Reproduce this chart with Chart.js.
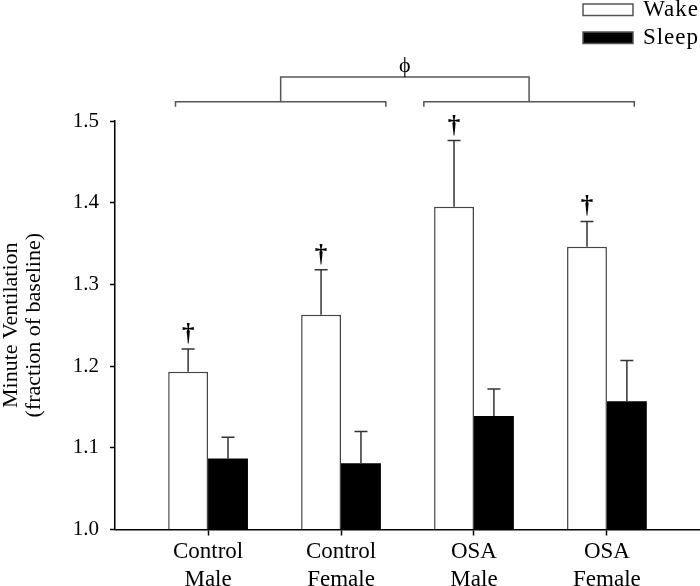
<!DOCTYPE html>
<html><head><meta charset="utf-8">
<script src="https://cdn.jsdelivr.net/npm/chart.js@4.4.1/dist/chart.umd.min.js"></script>
<style>html,body{margin:0;padding:0;background:#fff;} #wrap{width:700px;height:586px;position:relative;}</style>
</head><body><div id="wrap"><canvas id="c" width="700" height="586"></canvas></div>
<script>
// ---- data ----
const categories = [['Control', 'Male'], ['Control', 'Female'], ['OSA', 'Male'], ['OSA', 'Female']];
const wakeValues = [1.193, 1.263, 1.395, 1.346];
const wakeErrors = [0.028, 0.055, 0.081, 0.031];
const sleepValues = [1.087, 1.081, 1.139, 1.157];
const sleepErrors = [0.026, 0.039, 0.033, 0.050];
const wakeSignificant = [true, true, true, true];
const yTicks = [1.0, 1.1, 1.2, 1.3, 1.4, 1.5];
const seriesNames = ['Wake', 'Sleep'];

// ---- annotation layout (x in category units, y in value units) ----
const groupBrackets = [{ from: 0.755, to: 2.337 }, { from: 2.623, to: 4.206 }];
const bracketLevel = 1.5236, bracketTick = 1.5175, topLevel = 1.554, phiLevel = 1.567;

const FONT = '"Liberation Serif", "Times New Roman", serif';

const decor = {
  id: 'decor',
  afterDatasetsDraw(chart) {
    const ctx = chart.ctx, ys = chart.scales.y;
    ctx.save();
    const errs = [wakeErrors, sleepErrors];
    chart.data.datasets.forEach((ds, di) => {
      const meta = chart.getDatasetMeta(di);
      meta.data.forEach((bar, i) => {
        const v = ds.data[i].y;
        const top = ys.getPixelForValue(v + errs[di][i]);
        const base = ys.getPixelForValue(v);
        ctx.strokeStyle = '#333'; ctx.lineWidth = 1.5;
        ctx.beginPath();
        ctx.moveTo(bar.x, base); ctx.lineTo(bar.x, top);
        ctx.moveTo(bar.x - 6.5, top); ctx.lineTo(bar.x + 6.5, top);
        ctx.stroke();
        if (di === 0 && wakeSignificant[i]) {
          ctx.fillStyle = '#000'; ctx.font = 'bold 25px ' + FONT;
          ctx.textAlign = 'center'; ctx.textBaseline = 'alphabetic';
          ctx.fillText('\u2020', bar.x, top - 8);
        }
      });
    });
    ctx.restore();
  },
  afterDraw(chart) {
    const ctx = chart.ctx, xs = chart.scales.x, ys = chart.scales.y;
    ctx.save();
    // brackets
    ctx.strokeStyle = '#555'; ctx.lineWidth = 1.5;
    const yb = ys.getPixelForValue(bracketLevel), yt = ys.getPixelForValue(bracketTick), ytop = ys.getPixelForValue(topLevel);
    const mids = [];
    groupBrackets.forEach(b => {
      const x0 = xs.getPixelForValue(b.from), x1 = xs.getPixelForValue(b.to);
      ctx.beginPath();
      ctx.moveTo(x0, yt); ctx.lineTo(x0, yb); ctx.lineTo(x1, yb); ctx.lineTo(x1, yt);
      ctx.stroke();
      mids.push((x0 + x1) / 2);
    });
    ctx.beginPath();
    ctx.moveTo(mids[0], yb); ctx.lineTo(mids[0], ytop); ctx.lineTo(mids[1], ytop); ctx.lineTo(mids[1], yb);
    ctx.stroke();
    ctx.fillStyle = '#000'; ctx.font = '22px ' + FONT; ctx.textAlign = 'center'; ctx.textBaseline = 'middle';
    ctx.fillText('\u03D5', (mids[0] + mids[1]) / 2, ys.getPixelForValue(phiLevel));
    // legend
    const ds = chart.data.datasets;
    const rows = [{ y: 4 }, { y: 32 }];
    ds.forEach((d, i) => {
      const r = rows[i];
      ctx.fillStyle = d.backgroundColor; ctx.fillRect(583, r.y, 50, 11.5);
      ctx.strokeStyle = '#555'; ctx.lineWidth = 1.5; ctx.strokeRect(583, r.y, 50, 11.5);
      ctx.fillStyle = '#000'; ctx.font = '23px ' + FONT; ctx.textAlign = 'right'; ctx.textBaseline = 'alphabetic';
      ctx.letterSpacing = '1px';
      ctx.fillText(d.label, 699, r.y + 12);
      ctx.letterSpacing = '0px';
    });
    ctx.restore();
  }
};

new Chart(document.getElementById('c'), {
  type: 'bar',
  data: {
    datasets: [
      { label: seriesNames[0], data: wakeValues.map((v, i) => ({ x: i + 1, y: v })), backgroundColor: '#ffffff', borderColor: '#444', borderWidth: 1.5, base: yTicks[0] },
      { label: seriesNames[1], data: sleepValues.map((v, i) => ({ x: i + 1, y: v })), backgroundColor: '#000000', borderColor: '#000', borderWidth: 0, base: yTicks[0] }
    ]
  },
  options: {
    responsive: false, animation: false, devicePixelRatio: 1,
    layout: { padding: { top: 121, left: 0, right: 0, bottom: 0 } },
    categoryPercentage: 0.6, barPercentage: 1.0,
    plugins: { legend: { display: false }, tooltip: { enabled: false } },
    scales: {
      x: {
        type: 'linear', min: 0.3, max: 4.7, offset: false,
        afterBuildTicks: s => { s.ticks = categories.map((c, i) => ({ value: i + 1 })); },
        ticks: { callback: v => categories[Math.round(v) - 1], font: { family: FONT, size: 23, lineHeight: 1.22 }, color: '#000', padding: 2, autoSkip: false, maxRotation: 0 },
        grid: { offset: false, drawOnChartArea: false, drawTicks: true, tickLength: 6, tickColor: '#000', tickWidth: 1.5 },
        border: { display: true, color: '#000', width: 1.5 },
        afterFit: s => { s.height = 56.5; }
      },
      y: {
        type: 'linear', min: yTicks[0], max: yTicks[yTicks.length - 1],
        afterBuildTicks: s => { s.ticks = yTicks.map(v => ({ value: v })); },
        ticks: { callback: v => v.toFixed(1), font: { family: FONT, size: 21 }, color: '#000', padding: 11 },
        grid: { drawOnChartArea: false, drawTicks: true, tickLength: 5, tickColor: '#000', tickWidth: 1.5 },
        border: { display: true, color: '#000', width: 1.5 },
        title: { display: true, text: ['Minute Ventilation', '(fraction of baseline)'], font: { family: FONT, size: 22, lineHeight: 1.05 }, color: '#000', padding: { top: 0, bottom: 0 } },
        afterFit: s => { s.width = 115; }
      }
    }
  },
  plugins: [decor]
});
</script>
</body></html>
